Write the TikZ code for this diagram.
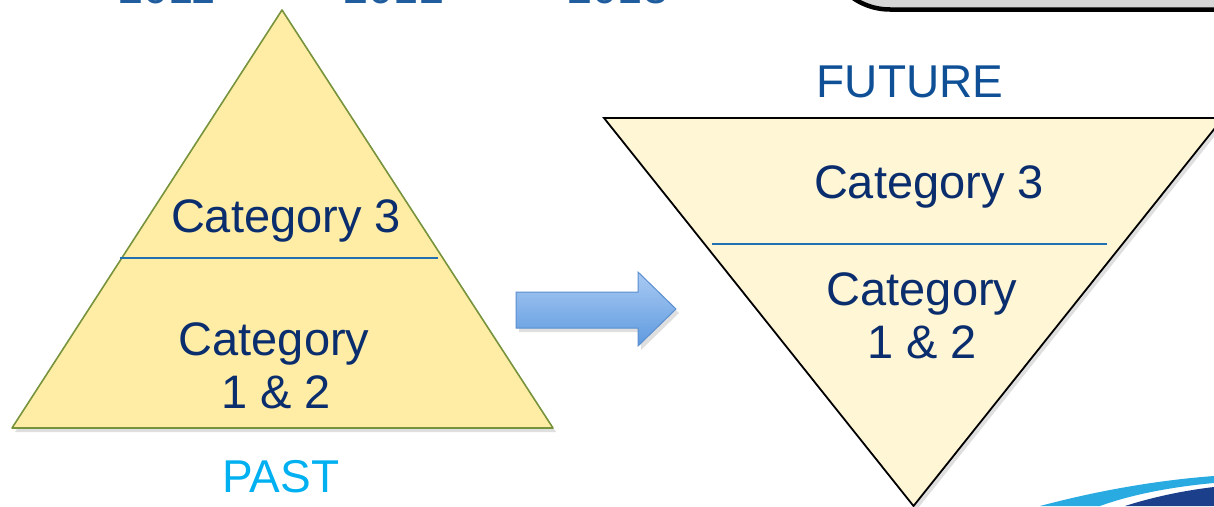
\documentclass[tikz,border=0pt]{standalone}
\usepackage{fontspec}
\setmainfont{Liberation Sans}
\usetikzlibrary{shadows}
\definecolor{navy}{HTML}{0A2D6E}
\definecolor{futblue}{HTML}{0E4F96}
\definecolor{pastcyan}{HTML}{00B0F0}
\definecolor{yearblue}{HTML}{1F5D9E}
\definecolor{pyrfill}{HTML}{FFEDA6}
\definecolor{pyrline}{HTML}{77933C}
\definecolor{invfill}{HTML}{FFF6D5}
\definecolor{divblue}{HTML}{2170B2}
\definecolor{arrtop}{HTML}{A9CAF3}
\definecolor{arrbot}{HTML}{5E9ADF}
\definecolor{arrline}{HTML}{5B8FCF}
\definecolor{boxgray}{HTML}{D6D6D6}
\definecolor{swlight}{HTML}{29ABE2}
\definecolor{swdark}{HTML}{1B3F8B}
\tikzset{
  cat/.style={font=\fontsize{47}{53}\selectfont, text=navy, anchor=base, inner sep=0pt},
  label/.style={font=\fontsize{46}{52}\selectfont, anchor=base, inner sep=0pt},
  year/.style={font=\fontsize{45}{50}\selectfont, text=yearblue, anchor=base, inner sep=0pt},
  shade/.style={drop shadow={opacity=0.25, shadow xshift=3pt, shadow yshift=-4pt}},
}
\begin{document}
\begin{tikzpicture}[x=1pt, y=-1pt]
\useasboundingbox (0,0) rectangle (1214,506);
\clip (0,0) rectangle (1214,506);
% top box
\draw[fill=boxgray, line width=4.5pt, rounded corners=65pt] (825,-300) rectangle (1400,9.5);
% years (cut off)
\node[year] (y1) at (167,3) {2011};
\node[year] (y2) at (394,3) {2012};
\node[year] (y3) at (618,3) {2013};
% left pyramid
\path[fill=pyrfill, draw=pyrline, line width=1.6pt, line join=round, shade] (282,10) -- (553,428) -- (12,428) -- cycle;
\draw[divblue, line width=1.8pt] (120,258) -- (438,258);
\node[cat] (l3) at (286,232) {Category 3};
\node[cat] (l12a) at (274,355) {Category};
\node[cat] (l12b) at (276,408) {1 \& 2};
\node[label, text=pastcyan] (past) at (281,492) {PAST};
% arrow
\path[top color=arrtop, bottom color=arrbot, draw=arrline, line width=1pt, shade]
  (516,292) -- (638,292) -- (638,272) -- (676,309) -- (638,346) -- (638,328) -- (516,328) -- cycle;
% right inverted pyramid
\path[fill=invfill, draw=black, line width=1.8pt, line join=miter, shade] (604,118) -- (1223,118) -- (913.5,506) -- cycle;
\draw[divblue, line width=2.2pt] (712,244) -- (1107,244);
\node[label, text=futblue] (fut) at (910,97) {FUTURE};
\node[cat] (r3) at (929,198) {Category 3};
\node[cat] (r12a) at (922,305) {Category};
\node[cat] (r12b) at (922,358) {1 \& 2};
% swoosh
\fill[swlight] (1040,506) .. controls (1100,490) and (1160,480) .. (1214,476) -- (1214,483) .. controls (1170,487) and (1130,495) .. (1100,506) -- cycle;
\fill[swdark] (1125,506) .. controls (1150,498) and (1180,491) .. (1214,487) -- (1214,506) -- cycle;
\end{tikzpicture}
\end{document}
